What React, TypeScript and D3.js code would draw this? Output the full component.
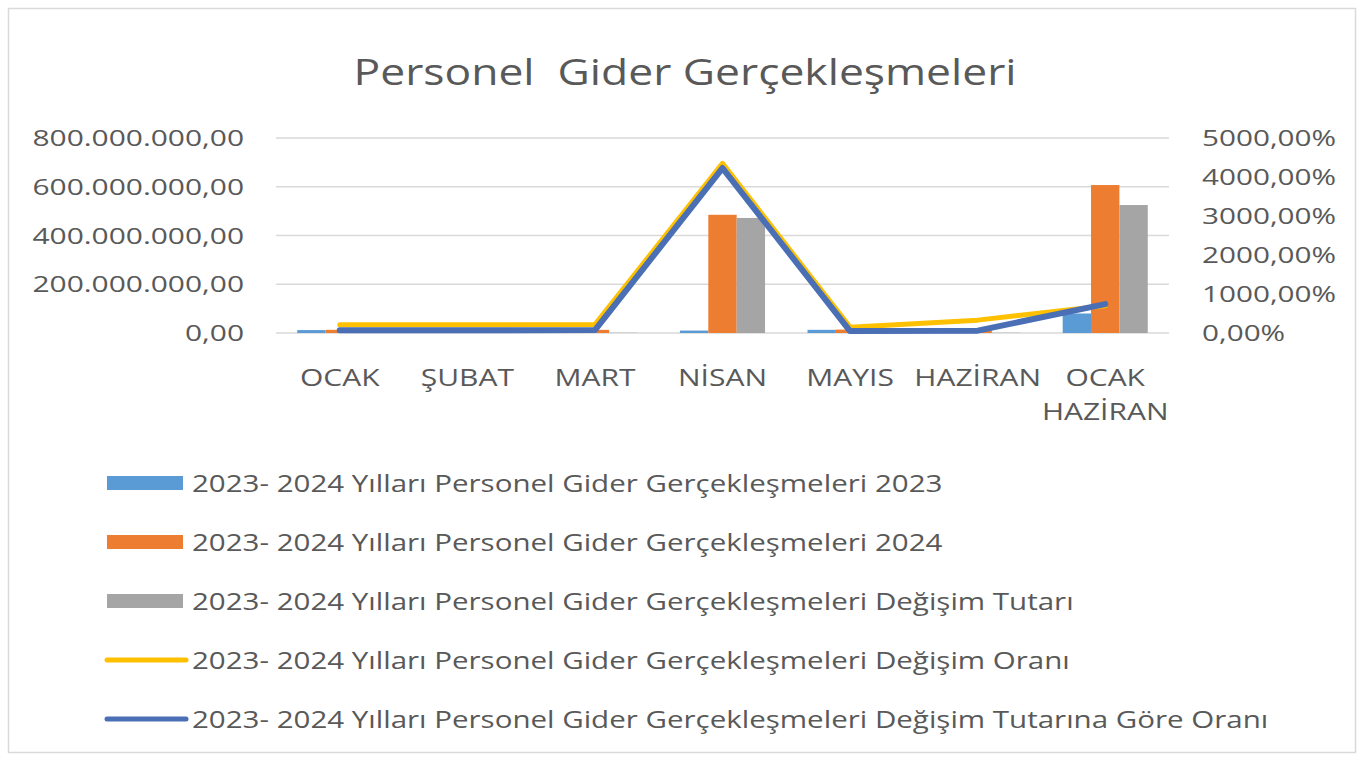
import React from "react";
import * as d3 from "d3";

const categories = ["OCAK", "ŞUBAT", "MART", "NİSAN", "MAYIS", "HAZİRAN", "OCAK HAZİRAN"];
const values2023 = [12e6, 12e6, 12e6, 10e6, 13e6, 14e6, 80e6];
const values2024 = [13e6, 13e6, 13e6, 485e6, 14e6, 15e6, 607e6];
const degisimTutari = [1e6, 1e6, 1e6, 472e6, 1e6, 1e6, 525e6];
const degisimOrani = [210, 210, 215, 4350, 150, 330, 700];
const tutaraGoreOran = [70, 70, 75, 4230, 50, 60, 740];
const leftTicks = [0, 200e6, 400e6, 600e6, 800e6];
const rightTicks = [0, 1000, 2000, 3000, 4000, 5000];
const legendLabels = [
  "2023- 2024 Yılları Personel Gider Gerçekleşmeleri 2023",
  "2023- 2024 Yılları Personel Gider Gerçekleşmeleri 2024",
  "2023- 2024 Yılları Personel Gider Gerçekleşmeleri Değişim Tutarı",
  "2023- 2024 Yılları Personel Gider Gerçekleşmeleri Değişim Oranı",
  "2023- 2024 Yılları Personel Gider Gerçekleşmeleri Değişim Tutarına Göre Oranı",
];
const title = "Personel  Gider Gerçekleşmeleri";

const W = 1363, H = 760;
const TXT = "#595959";
const FONT = "'Open Sans', sans-serif";
const barColors = ["#5B9BD5", "#ED7D31", "#A5A5A5"];
const lineColors = ["#FFC000", "#4A6FB5"];

function T({ x, y, sx = 1, size, anchor = "start", children }: any) {
  return (
    <text
      transform={`translate(${x},${y}) scale(${sx},1)`}
      textAnchor={anchor}
      fontSize={size}
      fill={TXT}
      fontFamily={FONT}
      style={{ whiteSpace: "pre" }}
    >
      {children}
    </text>
  );
}

const fmtTL = (v: number) => {
  const s = d3.format(",.2f")(v);
  return s.replace(/,/g, "X").replace(/\./g, ",").replace(/X/g, ".");
};
const fmtPct = (v: number) => d3.format(".2f")(v).replace(".", ",") + "%";

export default function App() {
  const x0 = 276, x1 = 1169, yTop = 138, yBot = 333;
  const x = d3.scaleBand<string>().domain(categories).range([x0, x1]).padding(0);
  const groupW = x.bandwidth() * 0.667;
  const xs = d3.scaleBand<number>().domain([0, 1, 2]).range([0, groupW]).padding(0);
  const yL = d3.scaleLinear().domain([0, 800e6]).range([yBot, yTop]);
  const yR = d3.scaleLinear().domain([0, 5000]).range([yBot, yTop]);
  const cx = (c: string) => (x(c) as number) + x.bandwidth() / 2;
  const series = [values2023, values2024, degisimTutari];
  const lines = [degisimOrani, tutaraGoreOran];
  const lineGen = (vals: number[]) =>
    d3.line<number>().x((_, i) => cx(categories[i])).y((v) => yR(v))(vals) as string;

  const legendY0 = 483, legendStep = 59;

  return (
    <svg width={W} height={H} style={{ position: "absolute", left: 0, top: 0, background: "#fff" }}>
      <rect x={8.5} y={8.5} width={1347} height={744} fill="#fff" stroke="#d9d9d9" strokeWidth={1.5} />
      <T x={685} y={85} size={37} sx={1.2} anchor="middle">{title}</T>

      {leftTicks.map((t) => (
        <line key={"g" + t} x1={x0} x2={x1} y1={yL(t)} y2={yL(t)} stroke="#d9d9d9" strokeWidth={1.5} />
      ))}
      {leftTicks.map((t) => (
        <T key={"l" + t} x={244} y={yL(t) + 8} size={22} sx={1.36} anchor="end">{fmtTL(t)}</T>
      ))}
      {rightTicks.map((t) => (
        <T key={"r" + t} x={1202} y={yR(t) + 8} size={22} sx={1.35}>{fmtPct(t)}</T>
      ))}

      {series.map((vals, si) =>
        vals.map((v, i) => {
          const c = categories[i];
          const bx = cx(c) - groupW / 2 + (xs(si) as number);
          return (
            <rect key={`b${si}-${i}`} x={bx} y={yL(v)} width={xs.bandwidth()} height={yBot - yL(v)} fill={barColors[si]} />
          );
        })
      )}

      {lines.map((vals, li) => (
        <path key={"ln" + li} d={lineGen(vals)} fill="none" stroke={lineColors[li]} strokeWidth={li === 0 ? 5 : 6} strokeLinejoin="round" strokeLinecap="round" />
      ))}

      {categories.map((c) => {
        const parts = c.split(" ");
        return parts.map((p, k) => (
          <T key={c + k} x={cx(c)} y={386 + k * 34} size={24} sx={1.25} anchor="middle">{p}</T>
        ));
      })}

      {legendLabels.map((lab, i) => {
        const ly = legendY0 + i * legendStep;
        return (
          <g key={"lg" + i}>
            {i < 3 ? (
              <rect x={107} y={ly - 7} width={76} height={14} fill={barColors[i]} />
            ) : (
              <line x1={107} x2={186} y1={ly} y2={ly} stroke={lineColors[i - 3]} strokeWidth={5} strokeLinecap="round" />
            )}
            <T x={192} y={ly + 9} size={24} sx={1.23}>{lab}</T>
          </g>
        );
      })}
    </svg>
  );
}
